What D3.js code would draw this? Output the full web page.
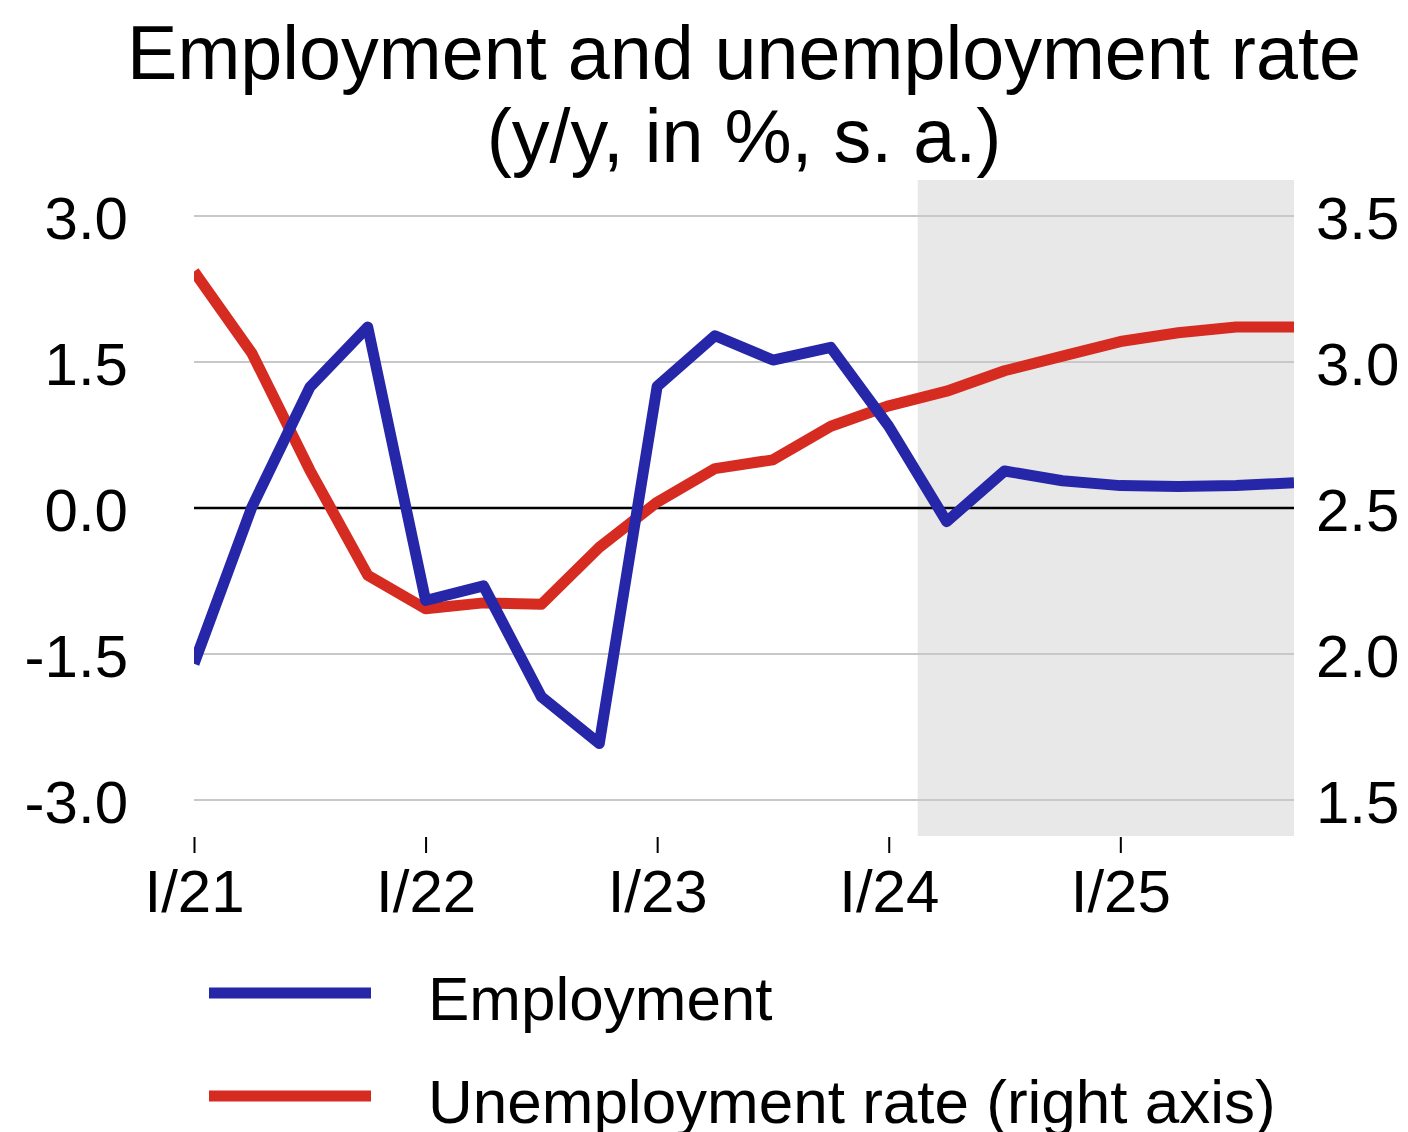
<!DOCTYPE html>
<html>
<head>
<meta charset="utf-8">
<script src="https://cdn.jsdelivr.net/npm/d3@7"></script>
<style>
  body { margin: 0; background: #fff; }
  svg text { font-family: "Liberation Sans", Arial, Helvetica, sans-serif; fill: #000; }
</style>
</head>
<body>
<svg id="chart" width="1408" height="1132"></svg>
<script>
// quarters I/21 .. IV/25
var quarters = ["I/21","II/21","III/21","IV/21","I/22","II/22","III/22","IV/22",
                "I/23","II/23","III/23","IV/23","I/24","II/24","III/24","IV/24",
                "I/25","II/25","III/25","IV/25"];
var xTicks = ["I/21","I/22","I/23","I/24","I/25"];
var employment = [-1.60, 0.01, 1.24, 1.86, -0.95, -0.80, -1.94, -2.42,
                  1.25, 1.77, 1.52, 1.65, 0.84, -0.14, 0.38, 0.28,
                  0.23, 0.22, 0.23, 0.26];
var unemployment = [3.31, 3.03, 2.63, 2.27, 2.155, 2.175, 2.17, 2.365,
                    2.52, 2.635, 2.665, 2.78, 2.85, 2.90, 2.97, 3.02,
                    3.07, 3.10, 3.12, 3.12];
var leftTicks = [-3, -1.5, 0, 1.5, 3];
var rightTicks = [1.5, 2.0, 2.5, 3.0, 3.5];
var forecastFrom = "I/24"; // shading starts half a quarter after this

var svg = d3.select("#chart");
var blue = "#2626a8", red = "#d62b20";

var x = d3.scalePoint().domain(quarters).range([194, 1294]);
var yL = d3.scaleLinear().domain([-3, 3]).range([800, 216]);
var yR = d3.scaleLinear().domain([1.5, 3.5]).range([800, 216]);

// title
var title = svg.append("text")
    .attr("text-anchor", "middle")
    .style("font-size", "75.5px");
title.append("tspan").attr("x", 744).attr("y", 79).text("Employment and unemployment rate");
title.append("tspan").attr("x", 744).attr("y", 162).text("(y/y, in %, s. a.)");

// forecast shading
var fx = x(forecastFrom) + x.step() / 2;
svg.append("rect")
    .attr("x", fx)
    .attr("y", yL(3.37))
    .attr("width", x(quarters[quarters.length - 1]) - fx)
    .attr("height", yL(-3.37) - yL(3.37))
    .attr("fill", "#e8e8e8");

// grid
svg.append("g").selectAll("line")
  .data(leftTicks)
  .enter().append("line")
    .attr("x1", 194).attr("x2", 1294)
    .attr("y1", function(d) { return yL(d); })
    .attr("y2", function(d) { return yL(d); })
    .attr("stroke", function(d) { return d === 0 ? "#000" : "#c8c8c8"; })
    .attr("stroke-width", function(d) { return d === 0 ? 2.5 : 2; });

// axes
var fmt = function(d) { return d.toFixed(1); };
var left = svg.append("g")
    .attr("transform", "translate(194,0)")
    .call(d3.axisLeft(yL).tickValues(leftTicks).tickFormat(fmt).tickSize(0).tickPadding(66));
var right = svg.append("g")
    .attr("transform", "translate(1294,0)")
    .call(d3.axisRight(yR).tickValues(rightTicks).tickFormat(fmt).tickSize(0).tickPadding(22));
var bottom = svg.append("g")
    .attr("transform", "translate(0,837)")
    .call(d3.axisBottom(x).tickValues(xTicks).tickSize(16).tickPadding(16));

[left, right, bottom].forEach(function(a) {
  a.select(".domain").remove();
  a.selectAll("text").style("font-size", "60px").attr("font-family", null);
  a.selectAll(".tick line").attr("stroke", "#000").attr("stroke-width", 2);
});
left.selectAll("text").attr("dy", "0.38em");
right.selectAll("text").attr("dy", "0.38em");

// lines
var lineL = d3.line()
    .x(function(d, i) { return x(quarters[i]); })
    .y(function(d) { return yL(d); });
var lineR = d3.line()
    .x(function(d, i) { return x(quarters[i]); })
    .y(function(d) { return yR(d); });

svg.append("clipPath").attr("id", "clip")
  .append("rect").attr("x", 194).attr("y", 0).attr("width", 1100).attr("height", 1132);

var lines = svg.append("g").attr("clip-path", "url(#clip)");
lines.append("path")
    .attr("d", lineR(unemployment))
    .attr("fill", "none")
    .attr("stroke", red)
    .attr("stroke-width", 11)
    .attr("stroke-linejoin", "round");
lines.append("path")
    .attr("d", lineL(employment))
    .attr("fill", "none")
    .attr("stroke", blue)
    .attr("stroke-width", 11)
    .attr("stroke-linejoin", "round");

// legend
var legend = [
  { name: "Employment", color: blue, y: 993 },
  { name: "Unemployment rate (right axis)", color: red, y: 1096 }
];
var lg = svg.append("g").selectAll("g")
  .data(legend)
  .enter().append("g");
lg.append("line")
    .attr("x1", 209).attr("x2", 371)
    .attr("y1", function(d) { return d.y; })
    .attr("y2", function(d) { return d.y; })
    .attr("stroke", function(d) { return d.color; })
    .attr("stroke-width", 11);
lg.append("text")
    .attr("x", 428)
    .attr("y", function(d) { return d.y + 27; })
    .style("font-size", "62px")
    .text(function(d) { return d.name; });
</script>
</body>
</html>
